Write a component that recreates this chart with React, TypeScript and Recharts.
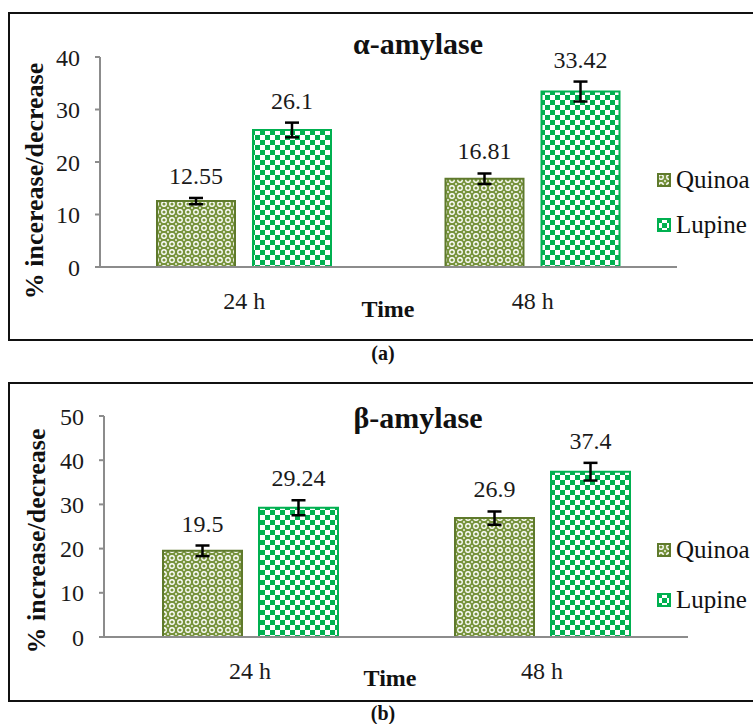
import React from 'react';
import { BarChart, Bar, XAxis, YAxis, ErrorBar, LabelList, Legend } from 'recharts';

const categories = ['24 h', '48 h'];
const seriesNames = ['Quinoa', 'Lupine'];

const alphaQuinoa = [12.55, 16.81];
const alphaLupine = [26.1, 33.42];
const alphaQuinoaErr = [0.6, 1.0];
const alphaLupineErr = [1.4, 1.9];
const alphaTicks = [0, 10, 20, 30, 40];

const betaQuinoa = [19.5, 26.9];
const betaLupine = [29.24, 37.4];
const betaQuinoaErr = [1.2, 1.5];
const betaLupineErr = [1.7, 2.0];
const betaTicks = [0, 10, 20, 30, 40, 50];

const FONT = "'Liberation Serif', 'Times New Roman', serif";
const OLIVE = '#77933C';
const OLIVE_EDGE = '#5F7A2C';
const GREEN = '#00B050';
const AXIS = '#8C8C8C';

const buildRows = (q: number[], l: number[], qe: number[], le: number[]) =>
  categories.map((c, i) => ({ name: c, quinoa: q[i], lupine: l[i], qErr: qe[i], lErr: le[i] }));

// value label sits a little above the top of the error bar
const valueLabel = (errs: number[]) => (props: any) => {
  const { x, y, width, height, value, index } = props;
  const err = errs[index ?? 0] ?? 0;
  const errPx = value ? (err * Math.abs(height)) / value : 0;
  return (
    <text
      x={x + width / 2}
      y={y - errPx - 14}
      textAnchor="middle"
      fontFamily={FONT}
      fontSize={24}
      fill="#1a1a1a"
    >
      {value}
    </text>
  );
};

function Patterns({ id }: { id: string }) {
  return (
    <defs>
      <pattern id={`quinoa-${id}`} width="8" height="8" patternUnits="userSpaceOnUse">
        <rect width="8" height="8" fill={OLIVE} />
        <circle cx="4" cy="4" r="2.9" fill="#fff" />
        <circle cx="4" cy="4" r="1.6" fill={OLIVE} />
        <circle cx="0" cy="0" r="0.9" fill="#fff" />
        <circle cx="8" cy="0" r="0.9" fill="#fff" />
        <circle cx="0" cy="8" r="0.9" fill="#fff" />
        <circle cx="8" cy="8" r="0.9" fill="#fff" />
      </pattern>
      <pattern id={`lupine-${id}`} width="10" height="10" patternUnits="userSpaceOnUse">
        <rect width="10" height="10" fill="#fff" />
        <rect width="5" height="5" fill={GREEN} />
        <rect x="5" y="5" width="5" height="5" fill={GREEN} />
      </pattern>
    </defs>
  );
}

function LegendBox({ id }: { id: string }) {
  const items = [
    { name: seriesNames[0], fill: `url(#quinoa-${id})`, stroke: OLIVE_EDGE },
    { name: seriesNames[1], fill: `url(#lupine-${id})`, stroke: GREEN },
  ];
  return (
    <div style={{ fontFamily: FONT, fontSize: 25, color: '#111' }}>
      {items.map((it, i) => (
        <div
          key={it.name}
          style={{ display: 'flex', alignItems: 'center', height: 28, marginTop: i === 0 ? 0 : (id === 'a' ? 17 : 22) }}
        >
          <svg width={14} height={14} style={{ marginRight: 5 }}>
            <rect x={1} y={1} width={12} height={12} fill={it.fill} stroke={it.stroke} strokeWidth={2} />
          </svg>
          <span>{it.name}</span>
        </div>
      ))}
    </div>
  );
}

interface PanelProps {
  id: string;
  top: number;
  height: number;
  margin: { top: number; right: number; left: number; bottom: number };
  rows: any[];
  ticks: number[];
  qErr: number[];
  lErr: number[];
  barSize: number;
  barGap: number;
  legendTop: number;
}

function Panel({ id, top, height, margin, rows, ticks, qErr, lErr, barSize, barGap, legendTop }: PanelProps) {
  return (
    <div style={{ position: 'absolute', left: 0, top, width: 753, height }}>
      <BarChart width={753} height={height} data={rows} margin={margin} barSize={barSize} barGap={barGap}>
        <Patterns id={id} />
        <XAxis
          dataKey="name"
          height={30}
          stroke={AXIS}
          axisLine={{ stroke: AXIS, strokeWidth: 2 }}
          tickLine={false}
          tickSize={0}
          tickMargin={25}
          tick={{ fill: '#1a1a1a', fontSize: 24, fontFamily: FONT }}
        />
        <YAxis
          width={60}
          domain={[0, ticks[ticks.length - 1]]}
          ticks={ticks}
          interval={0}
          axisLine={{ stroke: AXIS, strokeWidth: 2 }}
          tickLine={{ stroke: AXIS, strokeWidth: 2 }}
          tickSize={5}
          tickMargin={15}
          tick={{ fill: '#1a1a1a', fontSize: 24, fontFamily: FONT }}
        />
        <Legend
          layout="vertical"
          align="center"
          verticalAlign="middle"
          wrapperStyle={{ left: 657, top: legendTop, width: 100 }}
          content={() => <LegendBox id={id} />}
        />
        <Bar dataKey="quinoa" name={seriesNames[0]} fill={`url(#quinoa-${id})`} stroke={OLIVE_EDGE} strokeWidth={2} isAnimationActive={false}>
          <ErrorBar dataKey="qErr" width={7} stroke="#000" strokeWidth={2.5} direction="y" />
          <LabelList dataKey="quinoa" content={valueLabel(qErr)} />
        </Bar>
        <Bar dataKey="lupine" name={seriesNames[1]} fill={`url(#lupine-${id})`} stroke={GREEN} strokeWidth={2} isAnimationActive={false}>
          <ErrorBar dataKey="lErr" width={7} stroke="#000" strokeWidth={2.5} direction="y" />
          <LabelList dataKey="lupine" content={valueLabel(lErr)} />
        </Bar>
      </BarChart>
    </div>
  );
}

const abs = (extra: React.CSSProperties): React.CSSProperties => ({
  position: 'absolute',
  fontFamily: FONT,
  color: '#111',
  whiteSpace: 'nowrap',
  transform: 'translate(-50%, -50%)',
  lineHeight: 1,
  ...extra,
});

export default function App() {
  const alphaRows = buildRows(alphaQuinoa, alphaLupine, alphaQuinoaErr, alphaLupineErr);
  const betaRows = buildRows(betaQuinoa, betaLupine, betaQuinoaErr, betaLupineErr);

  return (
    <div style={{ position: 'fixed', left: 0, top: 0, width: 753, height: 724, overflow: 'hidden', background: '#fff' }}>
      {/* panel borders */}
      <div style={{ position: 'absolute', left: 8, top: 12, width: 780, height: 325, border: '2px solid #111' }} />
      <div style={{ position: 'absolute', left: 8, top: 382, width: 780, height: 316, border: '2px solid #111' }} />

      <Panel
        id="a"
        top={0}
        height={340}
        margin={{ top: 57, right: 76, left: 40, bottom: 43 }}
        rows={alphaRows}
        ticks={alphaTicks}
        qErr={alphaQuinoaErr}
        lErr={alphaLupineErr}
        barSize={78}
        barGap={18}
        legendTop={166}
      />
      <Panel
        id="b"
        top={370}
        height={330}
        margin={{ top: 46, right: 65, left: 44, bottom: 33 }}
        rows={betaRows}
        ticks={betaTicks}
        qErr={betaQuinoaErr}
        lErr={betaLupineErr}
        barSize={79}
        barGap={17}
        legendTop={166}
      />

      {/* titles */}
      <div style={abs({ left: 418, top: 44, fontSize: 30, fontWeight: 'bold' })}>α-amylase</div>
      <div style={abs({ left: 418, top: 418, fontSize: 30, fontWeight: 'bold' })}>β-amylase</div>

      {/* axis titles */}
      <div style={abs({ left: 35, top: 181, fontSize: 26, fontWeight: 'bold', transform: 'translate(-50%, -50%) rotate(-90deg)' })}>
        % incerease/decrease
      </div>
      <div style={abs({ left: 37, top: 541, fontSize: 26, fontWeight: 'bold', transform: 'translate(-50%, -50%) rotate(-90deg)' })}>
        % increase/decrease
      </div>
      <div style={abs({ left: 388, top: 309, fontSize: 24, fontWeight: 'bold' })}>Time</div>
      <div style={abs({ left: 390, top: 678, fontSize: 24, fontWeight: 'bold' })}>Time</div>

      {/* captions */}
      <div style={abs({ left: 383, top: 353, fontSize: 20, fontWeight: 'bold' })}>(a)</div>
      <div style={abs({ left: 383, top: 713, fontSize: 20, fontWeight: 'bold' })}>(b)</div>
    </div>
  );
}
